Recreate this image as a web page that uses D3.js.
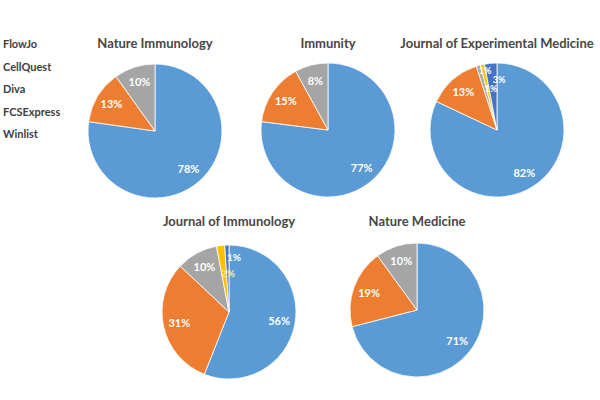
<!DOCTYPE html>
<html><head><meta charset="utf-8">
<script src="https://cdn.jsdelivr.net/npm/d3@7"></script>
<style>body{margin:0;background:#fff}svg{display:block}</style>
</head><body><svg id="c" width="600" height="400"></svg>
<script>
const categories = ["FlowJo","CellQuest","Diva","FCSExpress","Winlist"];
const colors = ["#5B9BD5","#ED7D31","#A5A5A5","#FFC000","#4472C4"];
const journals = ["Nature Immunology","Immunity","Journal of Experimental Medicine","Journal of Immunology","Nature Medicine"];
const natureImmunology = [78,13,10,0,0];
const immunity = [77,15,8,0,0];
const jem = [82,13,1,1,3];
const jImmunology = [56,31,10,2,1];
const natureMedicine = [71,19,10,0,0];
const seriesValues = [natureImmunology, immunity, jem, jImmunology, natureMedicine];

const layout = [
  {cx:155, cy:131, ty:48},
  {cx:328, cy:130, ty:48},
  {cx:497, cy:130, ty:48},
  {cx:229, cy:312, ty:226},
  {cx:417, cy:310, ty:226}
];
// manual label placement for tiny slices (offset from pie centre)
const labelOverrides = {
  "2-Diva": [-12,-59], "2-FCSExpress": [-6,-41], "2-Winlist": [2,-50],
  "3-FCSExpress": [-1,-39], "3-Winlist": [5,-55]
};
const R = 67;
const svg = d3.select("#c");
const color = d3.scaleOrdinal().domain(categories).range(colors);
const pie = d3.pie().sort(null).value(d => d.v);
const arc = d3.arc().innerRadius(0).outerRadius(R);
const labelArc = d3.arc().innerRadius(R*0.76).outerRadius(R*0.76);
const font = "Lato, 'Open Sans', sans-serif";

svg.append("g").selectAll("text").data(categories).join("text")
  .attr("x", 3).attr("y", (d,i) => 48 + i*22.5)
  .attr("font-family",font).attr("font-weight","bold")
  .attr("font-size", 11).attr("fill","#404040").text(d => d);

journals.forEach((j, k) => {
  const L = layout[k];
  const data = categories.map((c,i) => ({c, v: seriesValues[k][i]})).filter(d => d.v > 0);
  svg.append("text").attr("x", L.cx).attr("y", L.ty).attr("text-anchor","middle")
    .attr("font-family",font).attr("font-weight","bold")
    .attr("font-size", 13).attr("fill","#474747").text(j);
  const g = svg.append("g").attr("transform", `translate(${L.cx},${L.cy})`);
  const arcs = pie(data);
  g.selectAll("path").data(arcs).join("path")
    .attr("d", arc).attr("fill", d => color(d.data.c))
    .attr("stroke","#fff").attr("stroke-width",0.8);
  g.selectAll("text").data(arcs).join("text")
    .attr("transform", d => {
      const o = labelOverrides[k + "-" + d.data.c];
      return `translate(${o ? o : labelArc.centroid(d)})`;
    })
    .attr("text-anchor","middle").attr("dy","0.35em")
    .attr("font-family",font).attr("font-weight","bold")
    .attr("font-size", d => labelOverrides[k + "-" + d.data.c] ? (k === 2 ? 9 : 10) : 11)
    .attr("fill", d => (k === 3 && d.data.c === "FCSExpress") ? "#FFE699" : "#fff")
    .text(d => d.data.v + "%");
});
</script></body></html>
